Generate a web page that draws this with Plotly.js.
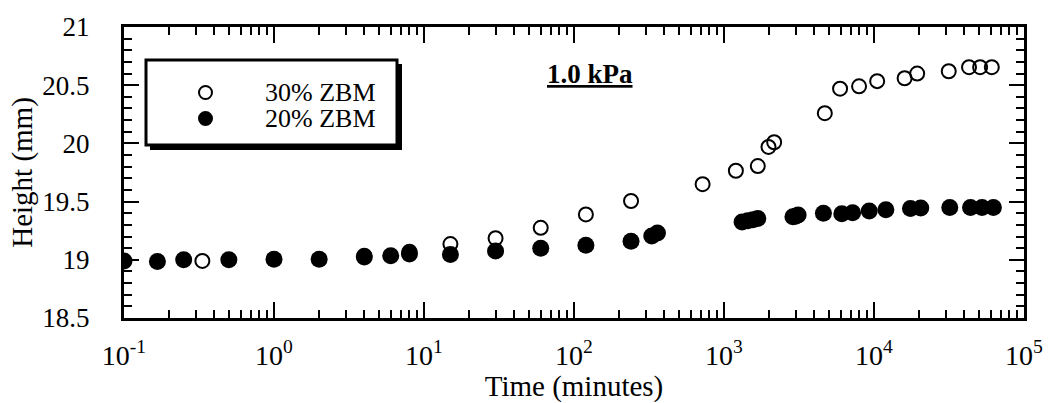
<!DOCTYPE html>
<html>
<head>
<meta charset="utf-8">
<script src="https://cdn.plot.ly/plotly-3.0.1.min.js"></script>
<style>html,body{margin:0;padding:0;background:#fff;}#chart{width:1051px;height:403px;}</style>
</head>
<body>
<div id="chart"></div>
<script>
// 30% ZBM (open circles)
const time30 = [0.333, 4, 8, 15, 30, 60, 120, 240, 720, 1200, 1680, 1980, 2160, 4700, 5940, 7950, 10500, 16000, 19400, 31500, 43000, 51000, 61000];
const height30 = [18.99, 19.035, 19.07, 19.135, 19.185, 19.275, 19.39, 19.505, 19.65, 19.765, 19.805, 19.97, 20.01, 20.26, 20.47, 20.49, 20.535, 20.56, 20.6, 20.62, 20.655, 20.655, 20.655];
// 20% ZBM (filled circles)
const time20 = [0.1, 0.167, 0.25, 0.5, 1, 2, 4, 6, 8, 15, 30, 60, 120, 240, 330, 360, 1320, 1440, 1560, 1680, 2880, 3000, 3120, 4600, 6100, 7200, 9300, 12000, 17500, 20500, 32000, 44000, 52500, 62500];
const height20 = [18.99, 18.985, 19.0, 19.0, 19.005, 19.005, 19.025, 19.035, 19.05, 19.045, 19.075, 19.1, 19.125, 19.16, 19.205, 19.23, 19.325, 19.335, 19.345, 19.355, 19.37, 19.375, 19.385, 19.40, 19.395, 19.405, 19.42, 19.43, 19.44, 19.445, 19.45, 19.45, 19.45, 19.45];

const seriesNames = ['30% ZBM', '20% ZBM'];
const xTickVals = [0.1, 1, 10, 100, 1000, 10000, 100000];
const xTickText = ['10<sup>-1</sup>', '10<sup>0</sup>', '10<sup>1</sup>', '10<sup>2</sup>', '10<sup>3</sup>', '10<sup>4</sup>', '10<sup>5</sup>'];
const yTickVals = [18.5, 19, 19.5, 20, 20.5, 21];
const yTickText = ['18.5', '19', '19.5', '20', '20.5', '21'];
const chartLabel = '1.0 kPa';
const xTitle = 'Time (minutes)';
const yTitle = 'Height (mm)';

// minor tick positions 2..9 in each decade
const xMinor = [];
for (let e = -1; e < 5; e++) for (let m = 2; m <= 9; m++) xMinor.push(m * Math.pow(10, e));

const FONT = 'Liberation Serif, Times New Roman, serif';

const traces = [
  {
    x: time30, y: height30, name: seriesNames[0], type: 'scatter', mode: 'markers',
    marker: {symbol: 'circle-open', size: 14, color: '#000', line: {width: 2, color: '#000'}}
  },
  {
    x: time20, y: height20, name: seriesNames[1], type: 'scatter', mode: 'markers',
    marker: {symbol: 'circle', size: 17, color: '#000', line: {width: 0}}
  }
];

// legend drawn by hand: box with drop shadow, symbols, labels
const legendShapes = [
  {type: 'rect', xref: 'paper', yref: 'paper', xsizemode: 'pixel', ysizemode: 'pixel',
   xanchor: 0, yanchor: 1, x0: 26, x1: 278, y0: -37, y1: -123,
   fillcolor: '#000', line: {width: 0}, layer: 'above'},
  {type: 'rect', xref: 'paper', yref: 'paper', xsizemode: 'pixel', ysizemode: 'pixel',
   xanchor: 0, yanchor: 1, x0: 22, x1: 273, y0: -33, y1: -118,
   fillcolor: '#fff', line: {width: 3, color: '#000'}, layer: 'above'},
  {type: 'circle', xref: 'paper', yref: 'paper', xsizemode: 'pixel', ysizemode: 'pixel',
   xanchor: 0, yanchor: 1, x0: 75, x1: 88, y0: -59, y1: -72,
   fillcolor: 'rgba(0,0,0,0)', line: {width: 2, color: '#000'}, layer: 'above'},
  {type: 'circle', xref: 'paper', yref: 'paper', xsizemode: 'pixel', ysizemode: 'pixel',
   xanchor: 0, yanchor: 1, x0: 74, x1: 89, y0: -84, y1: -99,
   fillcolor: '#000', line: {width: 0}, layer: 'above'}
];

const layout = {
  width: 1051, height: 403,
  margin: {l: 124, r: 27, t: 27, b: 85},
  paper_bgcolor: '#fff', plot_bgcolor: 'rgba(0,0,0,0)',
  font: {family: FONT, size: 24, color: '#000'},
  showlegend: false,
  xaxis: {
    type: 'log', range: [-1, 5],
    tickmode: 'array', tickvals: xTickVals, ticktext: xTickText,
    ticks: 'inside', ticklen: 16, tickwidth: 2, tickcolor: '#000',
    showline: true, linewidth: 3, linecolor: '#000', mirror: 'ticks',
    showgrid: false, zeroline: false,
    ticklabelstandoff: 10,
    tickfont: {family: FONT, size: 28, color: '#000'},
    minor: {tickmode: 'array', tickvals: xMinor, ticks: 'inside', ticklen: 8, tickwidth: 2, tickcolor: '#000', showgrid: false},
    title: {text: xTitle, font: {family: FONT, size: 29, color: '#000'}, standoff: 4},
    automargin: false
  },
  yaxis: {
    range: [18.5, 21],
    tickmode: 'array', tickvals: yTickVals, ticktext: yTickText,
    ticks: 'inside', ticklen: 15, tickwidth: 2, tickcolor: '#000',
    showline: true, linewidth: 3, linecolor: '#000', mirror: 'ticks',
    showgrid: false, zeroline: false,
    ticklabelstandoff: 26,
    tickfont: {family: FONT, size: 27, color: '#000'},
    minor: {dtick: 0.1, tick0: 18.5, ticks: 'inside', ticklen: 8, tickwidth: 2, tickcolor: '#000', showgrid: false},
    title: {text: yTitle, font: {family: FONT, size: 29, color: '#000'}, standoff: 2},
    automargin: false
  },
  shapes: legendShapes,
  annotations: [
    {text: '<b><u>' + chartLabel + '</u></b>', xref: 'paper', yref: 'paper',
     x: 0.518, y: 0.838, xanchor: 'center', yanchor: 'middle', showarrow: false,
     font: {family: FONT, size: 27, color: '#000'}},
    {text: seriesNames[0], xref: 'paper', yref: 'paper',
     x: 0.1544, y: 0.7766, xanchor: 'left', yanchor: 'middle', showarrow: false,
     font: {family: FONT, size: 26, color: '#000'}},
    {text: seriesNames[1], xref: 'paper', yref: 'paper',
     x: 0.1544, y: 0.687, xanchor: 'left', yanchor: 'middle', showarrow: false,
     font: {family: FONT, size: 26, color: '#000'}}
  ]
};

Plotly.newPlot('chart', traces, layout, {displayModeBar: false, staticPlot: true});
</script>
</body>
</html>
